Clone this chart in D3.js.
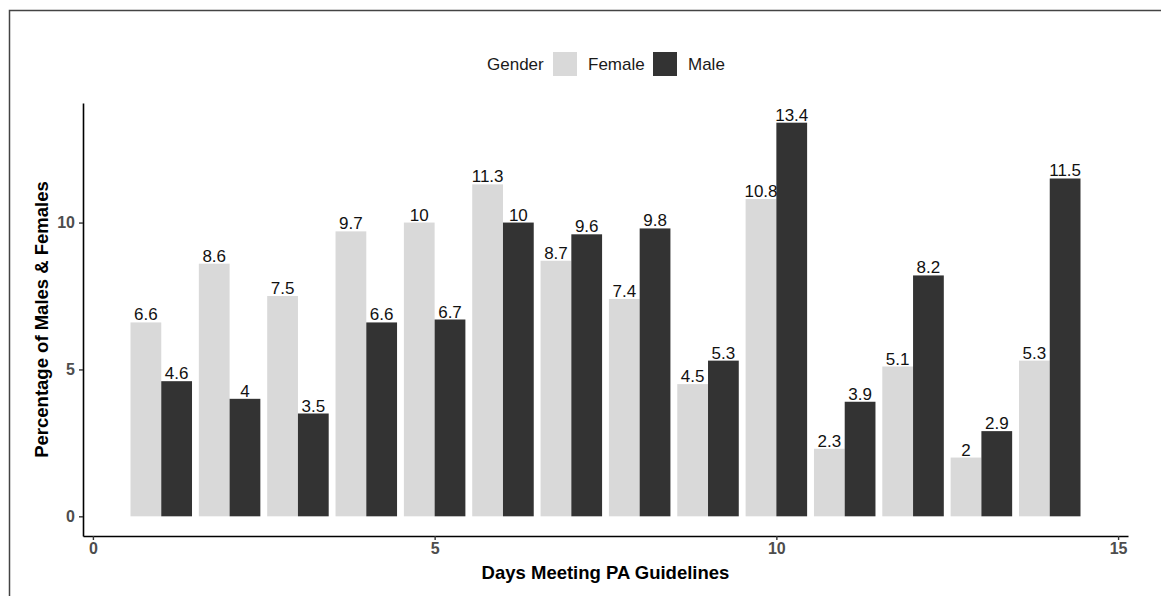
<!DOCTYPE html>
<html>
<head>
<meta charset="utf-8">
<script src="https://cdn.jsdelivr.net/npm/d3@7"></script>
<style>
  body { margin: 0; background: #fff; }
  svg { font-family: "Liberation Sans", Arial, sans-serif; }
</style>
</head>
<body>
<div id="chart"></div>
<script>
var days = [1, 2, 3, 4, 5, 6, 7, 8, 9, 10, 11, 12, 13, 14];
var female = [6.6, 8.6, 7.5, 9.7, 10, 11.3, 8.7, 7.4, 4.5, 10.8, 2.3, 5.1, 2, 5.3];
var male = [4.6, 4, 3.5, 6.6, 6.7, 10, 9.6, 9.8, 5.3, 13.4, 3.9, 8.2, 2.9, 11.5];
var genders = ["Female", "Male"];
var xTicks = [0, 5, 10, 15];
var yTicks = [0, 5, 10];

function init() {
    var W = 1161, H = 596;
    var plot = {left: 83, right: 1128, top: 103, bottom: 536};

    var colors = {Female: "#d9d9d9", Male: "#333333"};

    var svg = d3.select("#chart").append("svg")
        .attr("width", W)
        .attr("height", H);

    // outer frame
    svg.append("rect")
        .attr("x", 9.5).attr("y", 10.5)
        .attr("width", W).attr("height", H)
        .attr("fill", "none")
        .attr("stroke", "#444")
        .attr("stroke-width", 1.5);

    var xScale = d3.scaleLinear()
        .domain([-0.145, 15.145])
        .range([plot.left, plot.right]);

    var yScale = d3.scaleLinear()
        .domain([-0.67, 14.07])
        .range([plot.bottom, plot.top]);

    var data = [];
    days.forEach(function(d, i) {
        data.push({day: d, gender: "Female", value: female[i], off: -0.45});
        data.push({day: d, gender: "Male", value: male[i], off: 0});
    });

    var bw = xScale(0.45) - xScale(0);

    svg.selectAll("rect.bar")
        .data(data)
        .enter().append("rect")
        .attr("class", "bar")
        .attr("x", d => xScale(d.day + d.off))
        .attr("width", bw)
        .attr("y", d => yScale(d.value))
        .attr("height", d => yScale(0) - yScale(d.value))
        .attr("fill", d => colors[d.gender]);

    svg.selectAll("text.lbl")
        .data(data)
        .enter().append("text")
        .attr("class", "lbl")
        .attr("x", d => xScale(d.day + d.off + 0.225))
        .attr("y", d => yScale(d.value) - 2)
        .attr("text-anchor", "middle")
        .attr("fill", "#111")
        .style("font-size", "17px")
        .text(d => d.value);

    // axes
    var xAxis = svg.append("g")
        .attr("transform", `translate(0, ${plot.bottom})`)
        .call(d3.axisBottom(xScale).tickValues(xTicks).tickSize(4).tickPadding(3).tickSizeOuter(0));

    var yAxis = svg.append("g")
        .attr("transform", `translate(${plot.left}, 0)`)
        .call(d3.axisLeft(yScale).tickValues(yTicks).tickSize(4).tickPadding(4).tickSizeOuter(0));

    [xAxis, yAxis].forEach(function(ax) {
        ax.attr("font-size", 16).attr("font-family", "'Liberation Sans', Arial, sans-serif");
        ax.select(".domain").attr("stroke", "#000").attr("stroke-width", 1.6);
        ax.selectAll(".tick line").attr("stroke", "#333").attr("stroke-width", 1.4);
        ax.selectAll(".tick text")
            .attr("fill", "#4d4d4d")
            .style("font-weight", "bold");
    });

    // axis titles
    svg.append("text")
        .attr("x", (plot.left + plot.right) / 2)
        .attr("y", 579)
        .attr("text-anchor", "middle")
        .style("font-size", "18.5px")
        .style("font-weight", "bold")
        .text("Days Meeting PA Guidelines");

    svg.append("text")
        .attr("transform", `translate(48, ${(plot.top + plot.bottom) / 2}) rotate(-90)`)
        .attr("text-anchor", "middle")
        .style("font-size", "18.5px")
        .style("font-weight", "bold")
        .text("Percentage of Males & Females");

    // legend
    var legend = svg.append("g");
    legend.append("text")
        .attr("x", 487).attr("y", 70)
        .attr("fill", "#1a1a1a")
        .style("font-size", "17px")
        .text("Gender");

    var keyX = [553, 653];
    genders.forEach(function(g, i) {
        legend.append("rect")
            .attr("x", keyX[i]).attr("y", 52)
            .attr("width", 24).attr("height", 24)
            .attr("fill", colors[g]);
        legend.append("text")
            .attr("x", keyX[i] + 35).attr("y", 70)
            .attr("fill", "#1a1a1a")
            .style("font-size", "17px")
            .text(g);
    });
}

window.onload = init;
</script>
</body>
</html>
